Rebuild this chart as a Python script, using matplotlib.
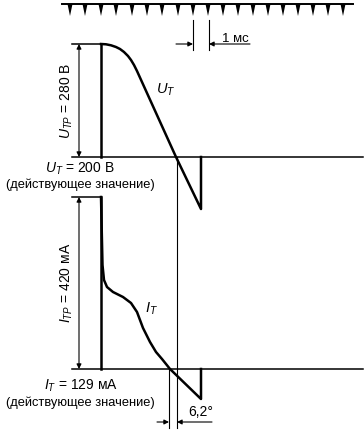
import matplotlib
matplotlib.use("Agg")
import matplotlib.pyplot as plt

plt.rcParams['font.family'] = ['Liberation Sans', 'DejaVu Sans']
plt.rcParams['mathtext.fontset'] = 'custom'
plt.rcParams['mathtext.rm'] = 'Liberation Sans'
plt.rcParams['mathtext.it'] = 'Liberation Sans:italic'

# drawing units: pixels of the original sheet (x right, y down)
tick_x = [70, 85, 101, 116, 132, 147, 162, 178, 193, 208,
          223, 238, 253, 268, 283, 298, 313, 328, 343]

# voltage trace U_T
u_x = [101, 106, 111, 116, 120, 124, 128, 131, 134, 137, 176, 201, 201]
u_y = [44, 44.3, 45.3, 47, 49, 52, 56, 60, 65, 71, 157, 209, 157]
u_top, u_base = 44, 157

# current trace I_T
i_x = [101, 102.5, 104, 107, 113, 123, 131, 137, 143, 150, 156, 162, 170, 201, 201]
i_y = [197, 265, 280, 287, 292, 297, 303, 312, 328, 342, 352, 359, 369, 399, 369]
i_top, i_base = 197, 369

phase_x = [169, 177]   # 6,2 deg shift lines
ms_x = [193, 209]      # 1 ms


def dim_arrow(ax, x0, y0, x1, y1):
    ax.annotate("", xy=(x1, y1), xytext=(x0, y0),
                arrowprops=dict(arrowstyle="-|>", lw=0.8, color="black",
                                mutation_scale=7, shrinkA=0, shrinkB=0))


def main():
    fig = plt.figure(figsize=(3.64, 4.32), dpi=100)
    ax = fig.add_axes([0, 0, 1, 1])
    ax.set_xlim(0, 364)
    ax.set_ylim(432, 0)
    ax.axis("off")

    # time marks
    ax.plot([62, 353], [3.5, 3.5], color="black", lw=1.4)
    for x in tick_x:
        ax.fill([x - 2.5, x + 2.5, x], [4, 4, 16], color="black", lw=0)

    # 1 ms dimension
    for x in ms_x:
        ax.plot([x, x], [20, 50], color="black", lw=0.8)
    dim_arrow(ax, 176, 44, ms_x[0], 44)
    dim_arrow(ax, 250, 44, ms_x[1], 44)
    ax.text(222, 39, "1 мс", fontsize=9.5, va="center", ha="left")

    # voltage part
    ax.plot([72, 101], [u_top, u_top], color="black", lw=1.1)
    ax.plot([72, 363], [u_base, u_base], color="black", lw=1.1)
    ax.plot([101, 101], [u_top, u_base], color="black", lw=1.8)
    ax.plot(u_x, u_y, color="black", lw=1.8, solid_joinstyle="round")
    ax.annotate("", xy=(79, u_top), xytext=(79, u_base),
                arrowprops=dict(arrowstyle="<|-|>", lw=0.8, color="black",
                                mutation_scale=7, shrinkA=0, shrinkB=0))
    ax.text(67, 101, "$U_{TP}$ = 280 В", rotation=90, fontsize=10,
            ha="center", va="center")
    ax.text(166, 90, "$U_T$", fontsize=10.5, ha="center", va="center")
    ax.text(80, 169, "$U_T$ = 200 В", fontsize=10, ha="center", va="center")
    ax.text(80, 185, "(действующее значение)", fontsize=9.3, ha="center", va="center")

    # current part
    ax.plot([72, 101], [i_top, i_top], color="black", lw=1.1)
    ax.plot([72, 363], [i_base, i_base], color="black", lw=1.1)
    ax.plot([101, 101], [i_top, i_base], color="black", lw=1.8)
    ax.plot(i_x, i_y, color="black", lw=1.8, solid_joinstyle="round")
    ax.annotate("", xy=(79, i_top), xytext=(79, i_base),
                arrowprops=dict(arrowstyle="<|-|>", lw=0.8, color="black",
                                mutation_scale=7, shrinkA=0, shrinkB=0))
    ax.text(67, 283, "$I_{TP}$ = 420 мА", rotation=90, fontsize=10,
            ha="center", va="center")
    ax.text(151, 309, "$I_T$", fontsize=10.5, ha="center", va="center")
    ax.text(81, 386, "$I_T$ = 129 мА", fontsize=10, ha="center", va="center")
    ax.text(80, 403, "(действующее значение)", fontsize=9.3, ha="center", va="center")

    # phase shift dimension
    ax.plot([phase_x[1], phase_x[1]], [u_base, 428], color="black", lw=0.8)
    ax.plot([phase_x[0], phase_x[0]], [i_base, 428], color="black", lw=0.8)
    dim_arrow(ax, 157, 422, phase_x[0], 422)
    dim_arrow(ax, 212, 422, phase_x[1], 422)
    ax.text(201, 412, "6,2°", fontsize=10, ha="center", va="center")

    fig.savefig("out.png", dpi=100)


if __name__ == "__main__":
    main()
